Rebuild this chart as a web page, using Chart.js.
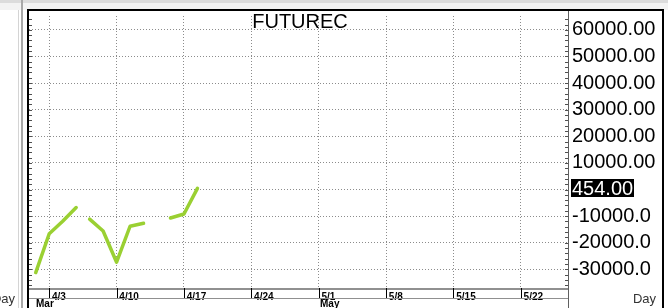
<!DOCTYPE html>
<html>
<head>
<meta charset="utf-8">
<script src="https://cdn.jsdelivr.net/npm/chart.js@4/dist/chart.umd.min.js"></script>
<style>
  html, body { margin: 0; padding: 0; background: #fff; }
</style>
</head>
<body>
<canvas id="chart" width="668" height="308"></canvas>
<script>
// trading-day index, 4/3 = 0 (weekends skipped); 2.5 is a break in the line
const dayIndex = [-1, 0, 1, 2, 2.5, 3, 4, 5, 6, 7, 8, 9, 10, 11];
const futurecValues = [-31200, -16600, -11900, -6750, null, -11100, -15600, -27300, -13800, -12700, null, -10700, -9200, 454];
const lastValue = 454;

const weekTicks = [0, 5, 10, 15, 20, 25, 30, 35];
const weekLabels = ['4/3', '4/10', '4/17', '4/24', '5/1', '5/8', '5/15', '5/22'];
const monthTicks = [-1.05, 20];
const monthLabels = ['Mar', 'May'];

const yTicks = [60000, 50000, 40000, 30000, 20000, 10000, 0, -10000, -20000, -30000];
const yLabels = ['60000.00', '50000.00', '40000.00', '30000.00', '20000.00', '10000.00', '0.00', '-10000.0', '-20000.0', '-30000.0'];

const green = '#9ad032';
const font = '"Liberation Sans", Arial, sans-serif';

const framePlugin = {
  id: 'frame',
  beforeDraw(chart) {
    const ctx = chart.ctx;
    ctx.save();
    ctx.fillStyle = '#fff';
    ctx.fillRect(0, 0, 668, 308);
    // top strip
    ctx.fillStyle = '#f3f3f3';
    ctx.fillRect(0, 0, 668, 10);
    ctx.fillStyle = '#dcdcdc';
    ctx.fillRect(0, 0, 668, 3);
    ctx.restore();
  },
  afterDraw(chart) {
    const ctx = chart.ctx;
    const area = chart.chartArea;
    const x = chart.scales.x;
    const y = chart.scales.y;
    ctx.save();

    // left panel separators
    ctx.fillStyle = '#d4d4d4';
    ctx.fillRect(18, 10, 1, 298);
    ctx.fillStyle = '#a8a8a8';
    ctx.fillRect(21, 0, 2, 308);

    // plot frame
    ctx.fillStyle = '#000';
    ctx.fillRect(27, 9, 2, 299);
    ctx.fillRect(27, 9, 637, 2);
    ctx.fillRect(662, 9, 2, 299);
    ctx.fillStyle = '#606060';
    ctx.fillRect(area.right, 11, 1, 297);

    // minor ticks along the plot edges
    ctx.fillStyle = '#505050';
    for (let v = -36000; v <= 64000; v += 2000) {
      const py = Math.round(y.getPixelForValue(v));
      ctx.fillRect(area.left, py, 3, 1);
      ctx.fillRect(area.right - 3, py, 3, 1);
    }

    // date band
    ctx.fillStyle = '#909090';
    ctx.fillRect(area.left, area.bottom, area.right - area.left, 2);
    ctx.fillRect(area.left, 298, area.right - area.left, 1);
    ctx.fillStyle = '#000';
    weekTicks.forEach(t => {
      const px = Math.round(x.getPixelForValue(t));
      ctx.fillRect(px, area.bottom, 1, 298 - area.bottom);
    });

    // month labels
    ctx.font = 'bold 10px ' + font;
    ctx.textBaseline = 'top';
    ctx.textAlign = 'left';
    monthTicks.forEach((t, i) => {
      ctx.fillText(monthLabels[i], Math.round(x.getPixelForValue(t)) + 1, 299);
    });

    // Day labels
    ctx.font = '13px ' + font;
    ctx.fillStyle = '#333';
    ctx.textBaseline = 'middle';
    ctx.textAlign = 'right';
    ctx.fillText('Day', 15, 299);
    ctx.fillText('Day', 656, 299);

    // title
    ctx.font = '20px ' + font;
    ctx.fillStyle = '#000';
    ctx.textAlign = 'center';
    ctx.fillText('FUTUREC', 300, 22);

    // last value box
    const ly = y.getPixelForValue(lastValue);
    ctx.fillStyle = '#000';
    ctx.fillRect(571, Math.round(ly) - 9, 63, 18);
    ctx.fillStyle = '#fff';
    ctx.textAlign = 'left';
    ctx.font = '20px ' + font;
    ctx.fillText(lastValue.toFixed(2), 572, ly + 1);

    ctx.restore();
  }
};

new Chart(document.getElementById('chart'), {
  type: 'line',
  data: {
    labels: dayIndex,
    datasets: [{
      data: dayIndex.map((d, i) => ({ x: d, y: futurecValues[i] })),
      borderColor: green,
      borderWidth: 3.5,
      borderCapStyle: 'round',
      borderJoinStyle: 'round',
      pointRadius: 0,
      tension: 0,
      spanGaps: false
    }]
  },
  options: {
    responsive: false,
    animation: false,
    layout: { padding: { left: 29, top: 11, right: 0, bottom: 0 } },
    plugins: { legend: { display: false }, tooltip: { enabled: false } },
    scales: {
      x: {
        type: 'linear',
        min: -1.5,
        max: 38.5,
        afterBuildTicks: s => { s.ticks = weekTicks.map(v => ({ value: v })); },
        afterFit: s => { s.height = 20; },
        grid: { color: '#8c8c8c', drawTicks: false },
        border: { display: false, dash: [1, 2] },
        ticks: {
          align: 'start',
          padding: 3,
          maxRotation: 0,
          autoSkip: false,
          color: '#000',
          font: { family: font, size: 10, weight: 'bold' },
          callback: v => ' ' + weekLabels[weekTicks.indexOf(v)]
        }
      },
      y: {
        position: 'right',
        min: -37000,
        max: 65200,
        afterBuildTicks: s => { s.ticks = yTicks.map(v => ({ value: v })); },
        afterFit: s => { s.width = 100; },
        grid: { color: '#8c8c8c', drawTicks: false },
        border: { display: false, dash: [1, 2] },
        ticks: {
          padding: 4,
          color: '#000',
          font: { family: font, size: 20 },
          callback: v => yLabels[yTicks.indexOf(v)]
        }
      }
    }
  },
  plugins: [framePlugin]
});
</script>
</body>
</html>
